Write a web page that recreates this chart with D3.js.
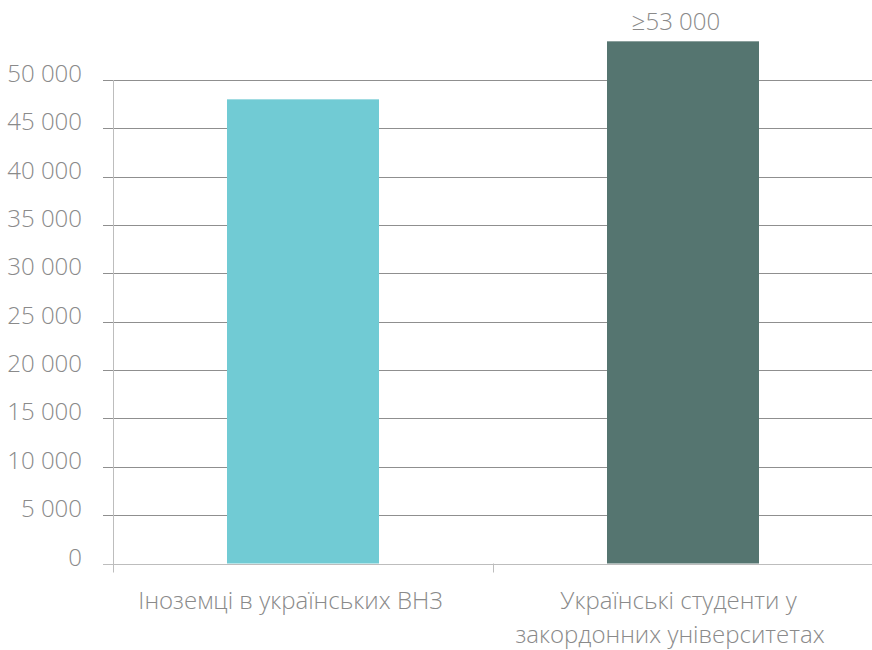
<!DOCTYPE html>
<html>
<head>
<meta charset="utf-8">
<script src="https://cdn.jsdelivr.net/npm/d3@7/dist/d3.min.js"></script>
<style>
  html, body { margin: 0; padding: 0; background: #fff; }
  svg { display: block; }
  text { font-family: "Open Sans", Lato, sans-serif; font-weight: 300; fill: #8a8a8a; }
</style>
</head>
<body>
<svg id="chart" width="872" height="650"></svg>
<script>
// Data
const categories = [
  ["Іноземці в українських ВНЗ"],
  ["Українські студенти у", "закордонних університетах"]
];
const values = [48000, 54000];
const valueLabels = [null, "≥53 000"];
const barColors = ["#71cbd4", "#557570"];
const yTicks = [0, 5000, 10000, 15000, 20000, 25000, 30000, 35000, 40000, 45000, 50000];

const svg = d3.select("#chart");
const W = 872, H = 650;
const plotLeft = 113, plotRight = 873, plotTop = 80, plotBottom = 563.5;
const fontSize = 24;

const x = d3.scaleBand().domain(d3.range(categories.length)).range([plotLeft, plotRight]).paddingInner(0).paddingOuter(0);
const y = d3.scaleLinear().domain([0, 50000]).range([plotBottom, plotTop]);

const fmt = v => d3.format(",")(v).replace(/,/g, " ");

// Gridlines
svg.append("g").selectAll("line").data(yTicks).join("line")
  .attr("x1", 103).attr("x2", W)
  .attr("y1", d => Math.round(y(d)) + 0.5).attr("y2", d => Math.round(y(d)) + 0.5)
  .attr("stroke", d => d === 0 ? "#bdbdbd" : "#8f8f8f")
  .attr("stroke-width", 1);

// Y tick labels
svg.append("g").selectAll("text").data(yTicks).join("text")
  .attr("x", 82).attr("y", d => Math.round(y(d)) + 1.5)
  .attr("text-anchor", "end")
  .attr("font-size", fontSize)
  .text(d => fmt(d));

// Bars
const barW = x.bandwidth() * 0.4;
svg.append("g").selectAll("rect").data(values).join("rect")
  .attr("x", (d, i) => x(i) + (x.bandwidth() - barW) / 2)
  .attr("width", barW)
  .attr("y", d => y(d))
  .attr("height", d => y(0) - y(d))
  .attr("fill", (d, i) => barColors[i]);

// Y axis line and category ticks
svg.append("line")
  .attr("x1", plotLeft + 0.5).attr("x2", plotLeft + 0.5)
  .attr("y1", plotTop).attr("y2", plotBottom + 9)
  .attr("stroke", "#bdbdbd");
svg.append("g").selectAll("line").data(d3.range(1, categories.length)).join("line")
  .attr("x1", d => x(d) + 0.5).attr("x2", d => x(d) + 0.5)
  .attr("y1", plotBottom).attr("y2", plotBottom + 9)
  .attr("stroke", "#bdbdbd");

// Value labels (slightly left of the bar centre)
svg.append("g").selectAll("text").data(values).join("text")
  .attr("x", (d, i) => x(i) + x.bandwidth() / 2)
  .attr("dx", -7)
  .attr("y", d => y(d) - 11)
  .attr("text-anchor", "middle")
  .attr("font-size", fontSize)
  .text((d, i) => valueLabels[i] || "");

// Category labels
const lineShift = [[-12.5], [-4.5, -13]];
const cat = svg.append("g").selectAll("text").data(categories).join("text")
  .attr("y", 609)
  .attr("text-anchor", "middle")
  .attr("font-size", fontSize);
cat.each(function(lines, i) {
  const cx = x(i) + x.bandwidth() / 2;
  d3.select(this).selectAll("tspan").data(lines).join("tspan")
    .attr("x", (d, j) => cx + lineShift[i][j])
    .attr("dy", (d, j) => j === 0 ? 0 : 34)
    .text(d => d);
});
</script>
</body>
</html>
